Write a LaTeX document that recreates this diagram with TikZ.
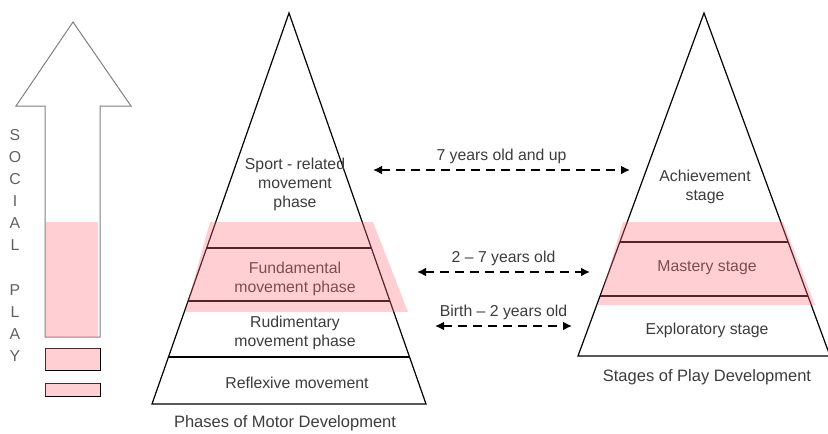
\documentclass[tikz,border=0pt]{standalone}
\usepackage{fontspec}
\setmainfont{Liberation Sans}
\usetikzlibrary{arrows.meta,calc}
\definecolor{txtgray}{RGB}{60,60,60}
\definecolor{rosa}{RGB}{255,110,125}
\begin{document}
\begin{tikzpicture}[x=1pt,y=-1pt,
  lbl/.style={text=txtgray,font=\fontsize{15.8}{19}\selectfont,align=center,inner sep=0pt},
  title/.style={lbl,font=\fontsize{16.5}{19}\selectfont},
  band/.style={fill=rosa,fill opacity=0.33},
  age/.style={line width=2.4pt,dash pattern=on 9pt off 6pt,
    {Latex[length=9pt,width=9pt]}-{Latex[length=9pt,width=9pt]}}]
\useasboundingbox (0,0) rectangle (828,434);

\draw[gray,line width=1pt] (45,337) -- (45,106) -- (16,106) -- (73,22) -- (131,106) -- (100,106) -- (100,337) -- cycle;
\draw[line width=1pt] (45,348) rectangle (100,370);
\draw[line width=1pt] (45,383) rectangle (100,396);
\foreach \c/\y in {S/135,O/157,C/179,I/201,A/223,L/245,P/290,L/312,A/334,Y/356}
  \node[lbl,text=black!62] at (15,\y) {\c};

\coordinate (mA) at (289,13);
\coordinate (mL) at (152,404);
\coordinate (mR) at (426,404);
\draw[line width=1.2pt] (mA) -- (mL) -- (mR) -- cycle;
\foreach \y in {248,301,357}
  \draw[line width=1.2pt] ($(mA)!{(\y-13)/391}!(mL)$) -- ($(mA)!{(\y-13)/391}!(mR)$);

\coordinate (pA) at (704,13);
\coordinate (pL) at (578,356);
\coordinate (pR) at (830,356);
\draw[line width=1.2pt] (pA) -- (pL) -- (pR) -- cycle;
\foreach \y in {242,296}
  \draw[line width=1.2pt] ($(pA)!{(\y-13)/343}!(pL)$) -- ($(pA)!{(\y-13)/343}!(pR)$);

\node[lbl] (sport) at (295,184) {Sport - related\\movement\\phase};
\node[lbl] (fund) at (295,279) {Fundamental\\movement phase};
\node[lbl] (rudi) at (295,333) {Rudimentary\\movement phase};
\node[lbl] (refl) at (297,383) {Reflexive movement};
\node[title] (phases) at (285,423) {Phases of Motor Development};

\node[lbl] (achv) at (705,187) {Achievement\\stage};
\node[lbl] (mast) at (707,268) {Mastery stage};
\node[lbl] (expl) at (707,330) {Exploratory stage};
\node[title] (stages) at (707,377) {Stages of Play Development};

\coordinate (s1) at (373,170);
\coordinate (e1) at (630,170);
\coordinate (s2) at (417,272);
\coordinate (e2) at (590,272);
\coordinate (s3) at (435,326);
\coordinate (e3) at (572,326);
\draw[age] (s1) -- node[lbl,above=5pt] (up) {7 years old and up} (e1);
\draw[age] (s2) -- node[lbl,above=5pt] (mid) {2 – 7 years old} (e2);
\draw[age] (s3) -- node[lbl,above=5pt] (low) {Birth – 2 years old} (e3);

\fill[band] (210,222) -- (373,222) -- (408,312) -- (185,312) -- cycle;
\fill[band] (623,222) -- (783,222) -- (815,305) -- (598,305) -- cycle;
\fill[band] (45,222) rectangle (98,337);
\fill[band] (45,348) rectangle (100,370);
\fill[band] (45,383) rectangle (100,396);
\end{tikzpicture}
\end{document}
